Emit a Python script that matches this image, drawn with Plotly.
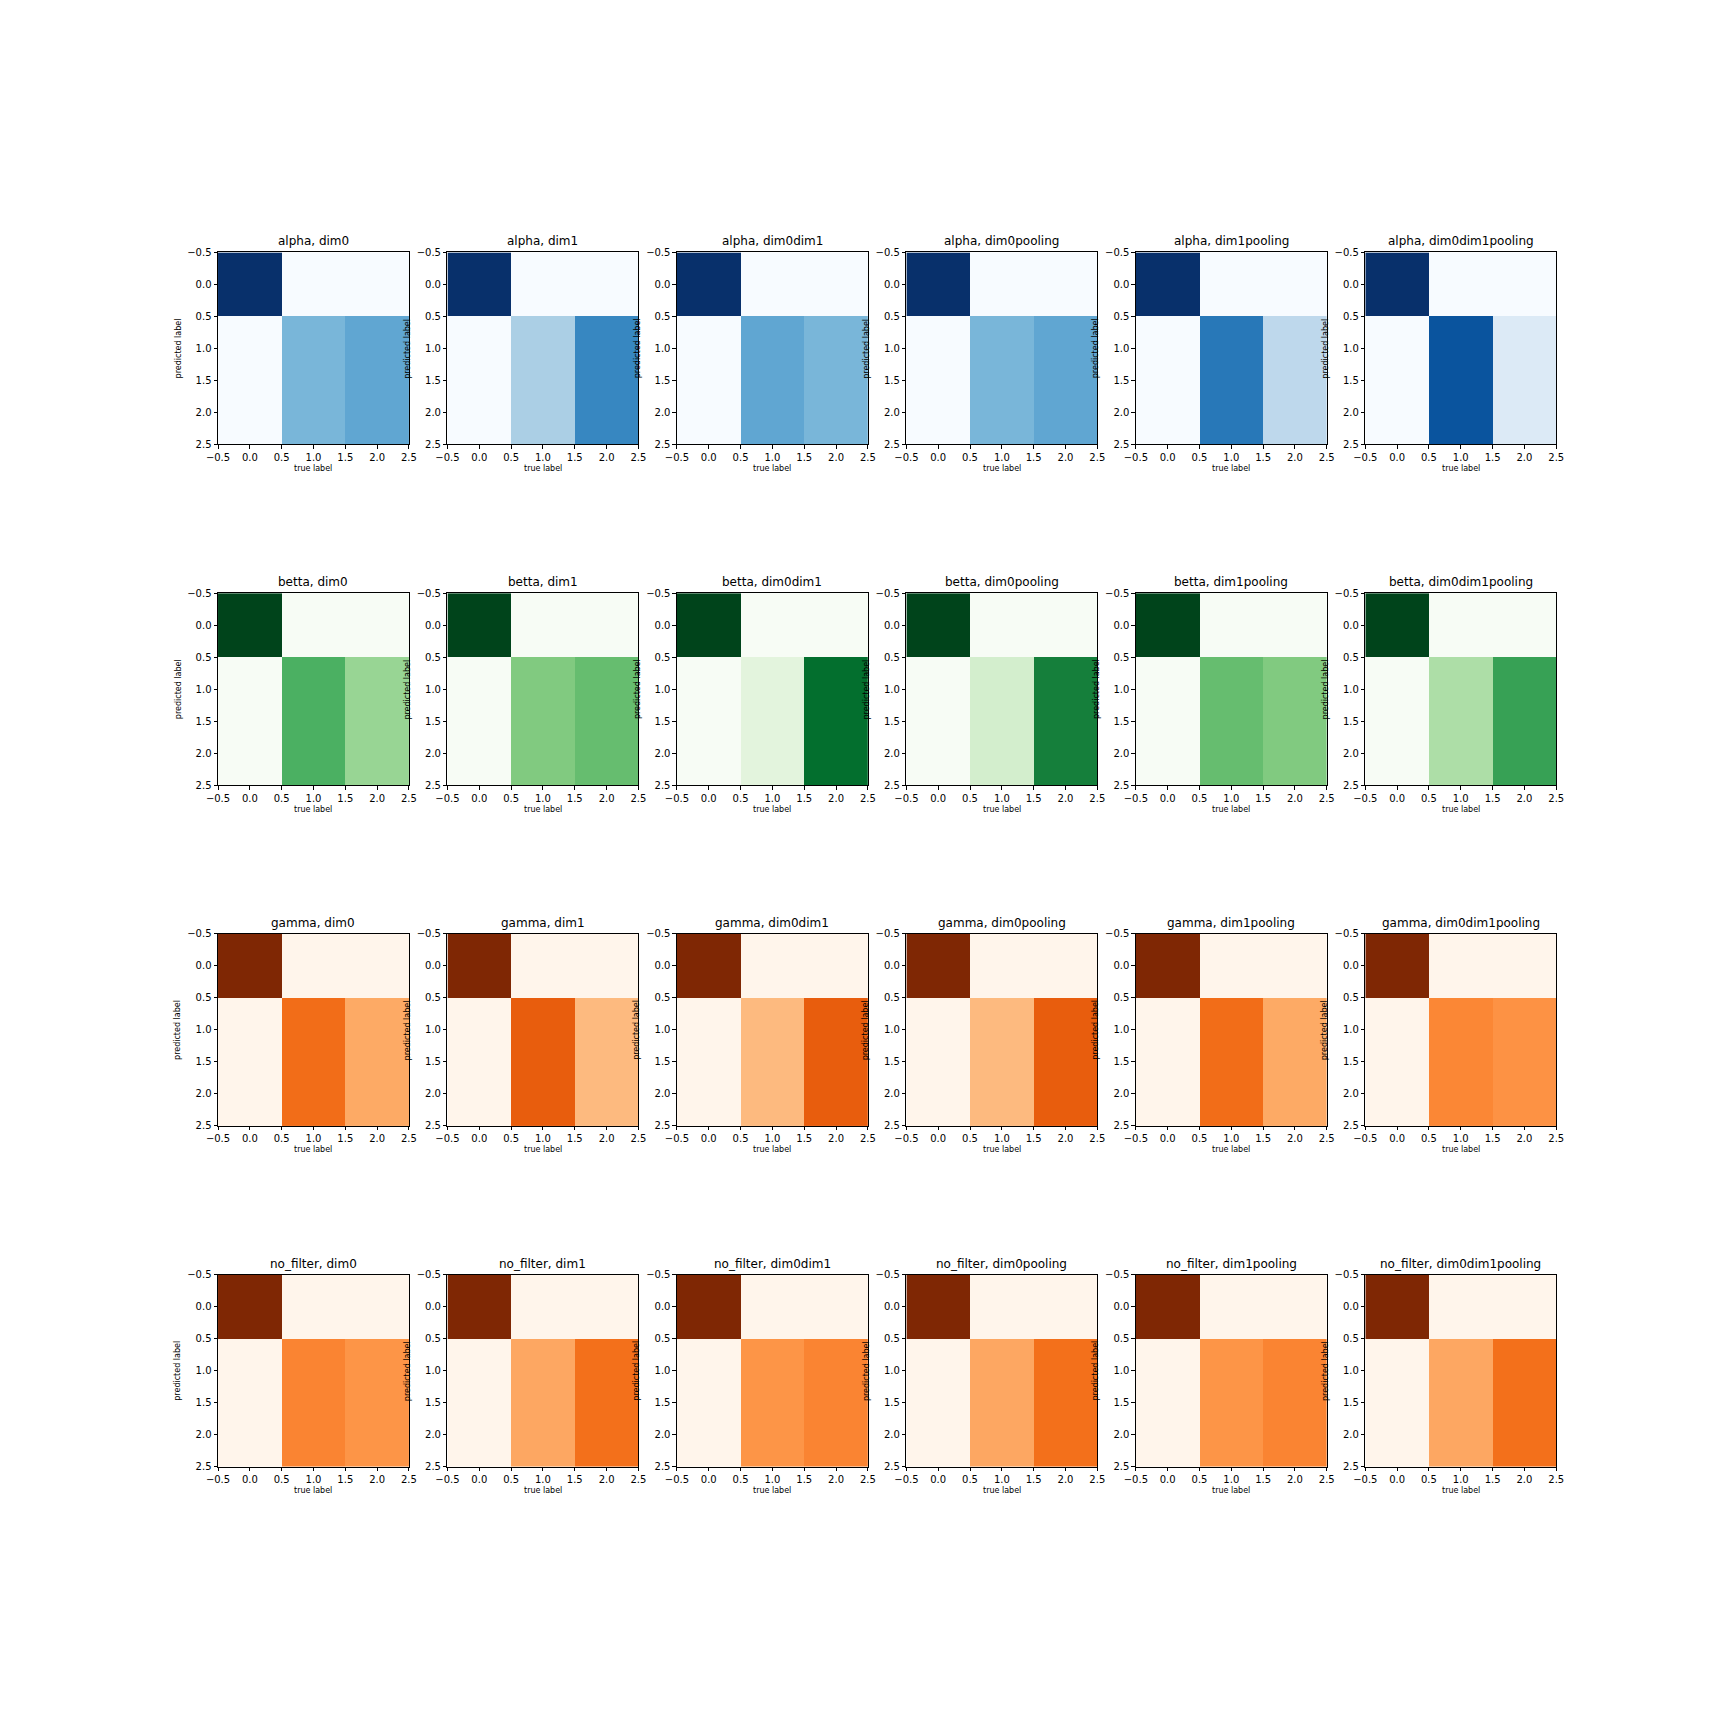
import plotly.graph_objects as go

# ---------------- data ----------------
filters = ["alpha", "betta", "gamma", "no_filter"]
methods = ["dim0", "dim1", "dim0dim1", "dim0pooling", "dim1pooling", "dim0dim1pooling"]
classes = [0, 1, 2]
tick_vals = [-0.5, 0.0, 0.5, 1.0, 1.5, 2.0, 2.5]
tick_text = ["\u22120.5", "0.0", "0.5", "1.0", "1.5", "2.0", "2.5"]

# value of the (0,0) cell (the maximum of every matrix)
diag_value = 100
# cell values for true label 1 and true label 2, in predicted rows 1 and 2
alpha_col1 = [46.5, 33.5, 53.5, 46.5, 72.5, 86.5]
alpha_col2 = [53.5, 66.5, 46.5, 53.5, 27.5, 13.5]
betta_col1 = [60.0, 46.5, 13.5, 20.0, 53.5, 33.5]
betta_col2 = [40.0, 53.5, 86.5, 80.0, 46.5, 66.5]
gamma_col1 = [61.0, 67.0, 33.0, 33.0, 61.0, 52.0]
gamma_col2 = [39.0, 33.0, 67.0, 67.0, 39.0, 48.0]
nofilter_col1 = [53.0, 40.0, 47.0, 40.0, 47.0, 40.0]
nofilter_col2 = [47.0, 60.0, 53.0, 60.0, 53.0, 60.0]

# matplotlib colormaps (ColorBrewer 9-class)
BLUES = ["#f7fbff", "#deebf7", "#c6dbef", "#9ecae1", "#6baed6",
         "#4292c6", "#2171b5", "#08519c", "#08306b"]
GREENS = ["#f7fcf5", "#e5f5e0", "#c7e9c0", "#a1d99b", "#74c476",
          "#41ab5d", "#238b45", "#006d2c", "#00441b"]
ORANGES = ["#fff5eb", "#fee6ce", "#fdd0a2", "#fdae6b", "#fd8d3c",
           "#f16913", "#d94801", "#a63603", "#7f2704"]


def scale(colors):
    n = len(colors) - 1
    return [[i / n, c] for i, c in enumerate(colors)]


row_cols = {
    "alpha": (alpha_col1, alpha_col2, BLUES),
    "betta": (betta_col1, betta_col2, GREENS),
    "gamma": (gamma_col1, gamma_col2, ORANGES),
    "no_filter": (nofilter_col1, nofilter_col2, ORANGES),
}

# ---------------- layout constants (pixels) ----------------
PAGE_OFF = 8
W = H = 1680
K = 1.0 / 0.99  # small empirical stretch
AX_LEFT0 = 216.5 - PAGE_OFF
AX_DX = 229.9 * K
AX_SIZE = 191.3 * K
AX_TOP0 = 256.0 - PAGE_OFF
AX_DY = 339.6 * K
FONT = "DejaVu Sans"

fig = go.Figure()
layout = dict(
    width=W, height=H, margin=dict(l=0, r=0, t=0, b=0),
    paper_bgcolor="white", plot_bgcolor="white", showlegend=False,
)
annotations = []

k = 0
for r, f in enumerate(filters):
    c1, c2, cmap = row_cols[f]
    for c, m in enumerate(methods):
        k += 1
        z = [
            [diag_value, 0, 0],
            [0, c1[c], c2[c]],
            [0, c1[c], c2[c]],
        ]
        xa = "x" if k == 1 else f"x{k}"
        ya = "y" if k == 1 else f"y{k}"
        fig.add_trace(go.Heatmap(
            z=z, x=classes, y=classes, colorscale=scale(cmap),
            zmin=min(min(row) for row in z), zmax=max(max(row) for row in z),
            showscale=False, xaxis=xa, yaxis=ya, hoverinfo="skip",
        ))
        x0 = AX_LEFT0 + c * AX_DX
        x1 = x0 + AX_SIZE
        top = AX_TOP0 + r * AX_DY
        bot = top + AX_SIZE
        xd = [x0 / W, x1 / W]
        yd = [1 - bot / H, 1 - top / H]
        common = dict(
            showline=True, mirror=True, linecolor="black", linewidth=1,
            ticks="outside", ticklen=3.5, tickwidth=0.8, tickcolor="black",
            showgrid=False, zeroline=False, tickmode="array",
            tickvals=tick_vals, ticktext=tick_text,
            tickfont=dict(family=FONT, size=10, color="black"),
            fixedrange=True,
        )
        layout["xaxis" if k == 1 else f"xaxis{k}"] = dict(
            domain=xd, range=[-0.5, 2.5], anchor=ya, **common)
        layout["yaxis" if k == 1 else f"yaxis{k}"] = dict(
            domain=yd, range=[2.5, -0.5], anchor=xa, **common)

        xc = (xd[0] + xd[1]) / 2
        yc = (yd[0] + yd[1]) / 2
        annotations.append(dict(
            text=f"{f}, {m}", x=xc, y=yd[1], xref="paper", yref="paper",
            xanchor="center", yanchor="bottom", yshift=2, showarrow=False,
            font=dict(family=FONT, size=12, color="black")))
        annotations.append(dict(
            text="true label", x=xc, y=yd[0], xref="paper", yref="paper",
            xanchor="center", yanchor="middle", yshift=-24, showarrow=False,
            font=dict(family=FONT, size=8, color="black")))
        annotations.append(dict(
            text="predicted label", x=xd[0], y=yc, xref="paper", yref="paper",
            xanchor="center", yanchor="middle", xshift=-40, textangle=-90,
            showarrow=False, font=dict(family=FONT, size=8, color="black")))

layout["annotations"] = annotations
fig.update_layout(**layout)
fig.write_html("out.html")
